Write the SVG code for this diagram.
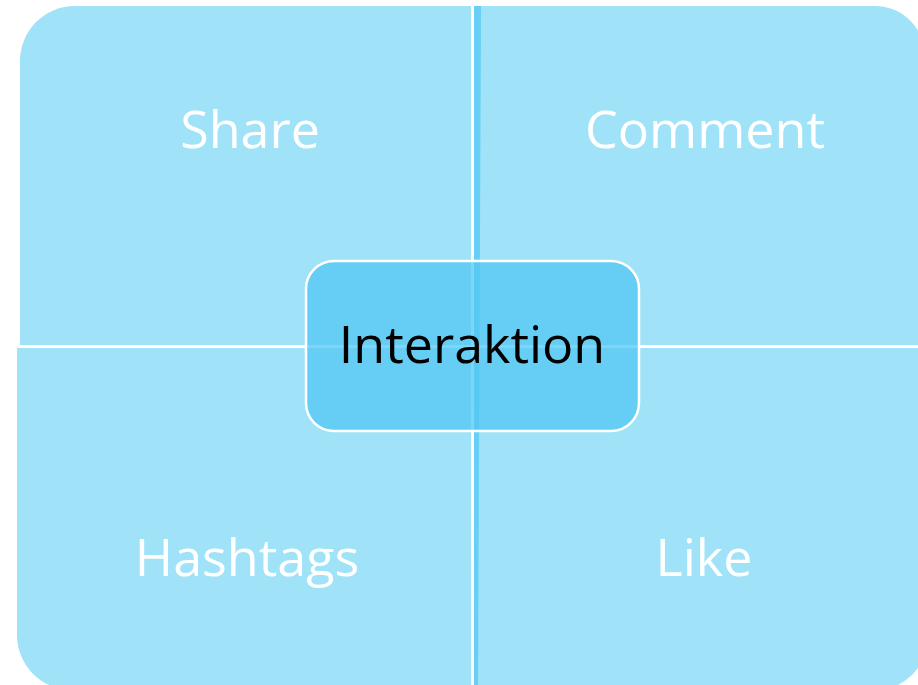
<svg xmlns="http://www.w3.org/2000/svg" width="918" height="685" viewBox="0 0 918 685">
  <style>
    .quad { fill: #A0E2F8; }
    .lbl { font-family: "Open Sans", "Liberation Sans", sans-serif; font-size: 52px; fill: #FFFFFF; text-anchor: middle; }
    .center-lbl { font-family: "Open Sans", "Liberation Sans", sans-serif; font-size: 52px; fill: #000000; text-anchor: middle; }
  </style>
  <rect width="918" height="685" fill="#FFFFFF"/>
  <g id="share">
    <path class="quad" d="M20,345 V61 A55,55 0 0 1 75,6 H471 V345 Z"/>
    <text class="lbl" x="250" y="148">Share</text>
  </g>
  <g id="comment">
    <path class="quad" d="M474,6 H875 A50,50 0 0 1 925,56 V345 H474 Z"/>
    <text class="lbl" x="705" y="148">Comment</text>
  </g>
  <g id="hashtags">
    <path class="quad" d="M17,348 H471 V690 H72 A55,55 0 0 1 17,635 Z"/>
    <text class="lbl" x="247" y="576">Hashtags</text>
  </g>
  <g id="like">
    <path class="quad" d="M474,348 H930 V632 A60,60 0 0 1 870,692 H474 Z"/>
    <text class="lbl" x="704" y="576">Like</text>
  </g>
  <g id="connectors">
    <polygon points="474,6 481,6 478,685 474,685" fill="#66CFF3"/>
  </g>
  <g id="interaktion">
    <rect x="306" y="261" width="333" height="170" rx="28" ry="28" fill="#53C7F3" fill-opacity="0.75" stroke="#FFFFFF" stroke-width="2.5"/>
    <text class="center-lbl" x="472" y="363">Interaktion</text>
  </g>
</svg>
